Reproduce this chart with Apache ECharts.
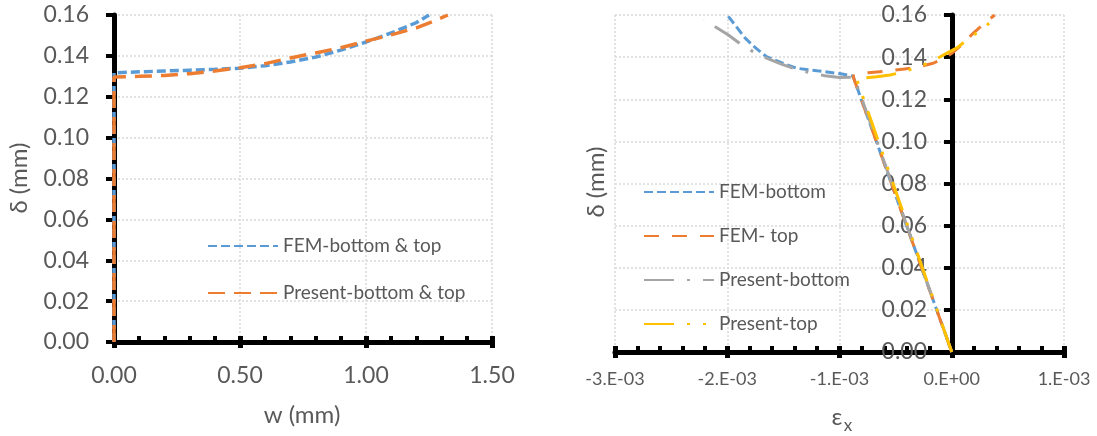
<!DOCTYPE html>
<html><head><meta charset="utf-8">
<script src="https://cdn.jsdelivr.net/npm/echarts@6/dist/echarts.min.js"></script>
<style>html,body{margin:0;padding:0;background:#fff}#c{width:1097px;height:436px}</style>
</head><body><div id="c"></div>
<script>
// ---------- tick labels ----------
const yTickLabels = ['0.00','0.02','0.04','0.06','0.08','0.10','0.12','0.14','0.16'];
const leftXTickLabels = ['0.00','0.50','1.00','1.50'];
const rightXTickLabels = ['-3.E-03','-2.E-03','-1.E-03','0.E+00','1.E-03'];

// ---------- series names ----------
const leftSeriesNames = ['FEM-bottom & top','Present-bottom & top'];
const rightSeriesNames = ['FEM-bottom','FEM- top','Present-bottom','Present-top'];

// ---------- left chart: [w (mm), delta (mm)] ----------
const femLeft = [[0,0],[0,0.1317],[0.1,0.1322],[0.2,0.1326],[0.3,0.1330],[0.4,0.1334],[0.5,0.1340],
  [0.6,0.1352],[0.7,0.1370],[0.8,0.1394],[0.9,0.1428],[1.0,0.1468],[1.1,0.1512],[1.2,0.1563],[1.25,0.1600]];
const presentLeft = [[0,0],[0,0.1297],[0.1,0.1300],[0.2,0.1304],[0.3,0.1313],[0.4,0.1326],[0.5,0.1342],
  [0.6,0.1362],[0.7,0.1390],[0.8,0.1414],[0.9,0.1440],[1.0,0.1472],[1.1,0.1503],[1.2,0.1537],[1.27,0.1570],[1.325,0.1600]];

// ---------- right chart: [strain eps_x, delta (mm)] ----------
const femBottom = [[0,0],[-0.88e-3,0.1310],[-1.0e-3,0.1322],[-1.2e-3,0.1335],[-1.38e-3,0.1347],[-1.5e-3,0.1370],
  [-1.65e-3,0.1402],[-1.75e-3,0.1445],[-1.84e-3,0.1490],[-1.92e-3,0.1545],[-2.0e-3,0.1600]];
const femTop = [[0,0],[-0.88e-3,0.1310],[-0.745e-3,0.1326],[-0.6e-3,0.1332],[-0.42e-3,0.1344],[-0.3e-3,0.1353],
  [-0.166e-3,0.1371],[-0.05e-3,0.1400],[0,0.1418],[0.1e-3,0.1463],[0.19e-3,0.1513],[0.3e-3,0.1565],[0.383e-3,0.1600]];
const presentBottom = [[0,0],[-0.87e-3,0.1305],[-1.0e-3,0.1303],[-1.13e-3,0.1312],[-1.264e-3,0.1326],[-1.4e-3,0.1345],
  [-1.517e-3,0.1367],[-1.65e-3,0.1395],[-1.77e-3,0.1426],[-1.88e-3,0.1462],[-1.99e-3,0.1505],[-2.1e-3,0.1542],[-2.21e-3,0.1580]];
const presentTop = [[0,0],[-0.85e-3,0.1300],[-0.76e-3,0.1302],[-0.67e-3,0.1307],[-0.55e-3,0.1315],[-0.463e-3,0.1326],
  [-0.285e-3,0.1355],[-0.166e-3,0.1383],[-0.047e-3,0.1418],[0.05e-3,0.1445],[0.13e-3,0.1480],[0.28e-3,0.1537],[0.40e-3,0.1590]];

const FONT = 'Lato, "Noto Sans", "DejaVu Sans", sans-serif';
const TXT = '#595959';
const BLUE = '#5B9BD5', ORANGE = '#ED7D31', GRAY = '#A5A5A5', YELLOW = '#FFC000';

const gridLine = {show:true, lineStyle:{color:'#D9D9D9', width:1.5, type:[2,2]}};
const yFmt = v => yTickLabels[Math.round(v/0.02)];
const lxFmt = v => leftXTickLabels[Math.round(v/0.5)];
const rxFmt = v => rightXTickLabels[Math.round((v+0.003)/0.001)];

function mainX(gi, min, max, interval, fmt, fs, margin) {
  return {gridIndex:gi, type:'value', min, max, interval, position:'bottom',
    axisLine:{show:true, lineStyle:{color:'#000', width:5}},
    axisTick:{show:true, inside:true, length:6, lineStyle:{color:'#000', width:5}},
    minorTick:{show:true, splitNumber:5, length:6, lineStyle:{color:'#000', width:4}},
    splitLine:gridLine, minorSplitLine:{show:false},
    axisLabel:{show:true, fontSize:fs, color:TXT, fontFamily:FONT, margin, formatter:fmt}};
}
function crossX(gi, min, max, interval) {
  return {gridIndex:gi, type:'value', min, max, interval, position:'bottom',
    axisLine:{show:false}, axisTick:{show:true, inside:false, length:6, lineStyle:{color:'#000', width:5}},
    axisLabel:{show:false}, splitLine:{show:false}};
}
function mainY(gi, offset) {
  return {gridIndex:gi, type:'value', min:0, max:0.16, interval:0.02, position:'left', offset,
    axisLine:{show:true, onZero:false, lineStyle:{color:'#000', width:5}},
    axisTick:{show:true, inside:false, length:8, lineStyle:{color:'#000', width:4}},
    splitLine:gridLine,
    axisLabel:{show:true, fontSize:23, color:TXT, fontFamily:FONT, margin:25, formatter:yFmt}};
}
function ser(name, data, xi, yi, color, type, width) {
  return {name, type:'line', data, xAxisIndex:xi, yAxisIndex:yi, symbol:'none', showSymbol:false,
    smooth:false, lineStyle:{color, width, type, cap:'butt'}, itemStyle:{color}, z:3};
}
const legendCommon = {orient:'vertical', itemWidth:70, itemHeight:22,
  itemStyle:{opacity:0, borderWidth:0},
  textStyle:{fontSize:19, color:TXT, fontFamily:FONT, lineHeight:22}, selectedMode:false};

const option = {
  animation:false, backgroundColor:'#fff',
  grid:[
    {left:114, top:15, width:378, height:327, containLabel:false, outerBoundsMode:'none'},
    {left:615, top:15, width:449, height:337, containLabel:false, outerBoundsMode:'none'}
  ],
  xAxis:[
    mainX(0, 0, 1.5, 0.5, lxFmt, 23, 22),
    crossX(0, 0, 1.5, 0.5),
    mainX(1, -0.003, 0.001, 0.001, rxFmt, 18, 18),
    crossX(1, -0.003, 0.001, 0.001)
  ],
  // right y axis sits at eps = 0: 3 of the 4 units of the 449 px wide plot
  yAxis:[ mainY(0, 0), mainY(1, -337) ],
  legend:[
    Object.assign({data:leftSeriesNames, left:202, top:230, itemGap:25}, legendCommon),
    Object.assign({data:rightSeriesNames, left:638, top:176, itemGap:22}, legendCommon)
  ],
  series:[
    ser(leftSeriesNames[0], femLeft, 0, 0, BLUE, [9,4], 3.5),
    ser(leftSeriesNames[1], presentLeft, 0, 0, ORANGE, [17,9], 3.5),
    ser(rightSeriesNames[0], femBottom, 2, 1, BLUE, [9,4], 3),
    ser(rightSeriesNames[1], femTop, 2, 1, ORANGE, [15,13], 3),
    ser(rightSeriesNames[2], presentBottom, 2, 1, GRAY, [30,13,3,13], 3),
    ser(rightSeriesNames[3], presentTop, 2, 1, YELLOW, [30,13,3,13,3,13], 3)
  ],
  graphic:[
    {type:'text', x:19, y:178, rotation:Math.PI/2, style:{text:'δ (mm)', fontSize:24, fontFamily:FONT, fill:TXT, align:'center', verticalAlign:'middle'}},
    {type:'text', x:302, y:415, style:{text:'w (mm)', fontSize:24, fontFamily:FONT, fill:TXT, align:'center', verticalAlign:'middle'}},
    {type:'text', x:596, y:182, rotation:Math.PI/2, style:{text:'δ (mm)', fontSize:24, fontFamily:FONT, fill:TXT, align:'center', verticalAlign:'middle'}},
    {type:'text', x:837, y:417, style:{text:'ε', fontSize:24, fontFamily:FONT, fill:TXT, align:'center', verticalAlign:'middle'}},
    {type:'text', x:848, y:426, style:{text:'x', fontSize:17, fontFamily:FONT, fill:TXT, align:'center', verticalAlign:'middle'}}
  ]
};
const chart = echarts.init(document.getElementById('c'), null, {renderer:'canvas'});
chart.setOption(option);
</script></body></html>
